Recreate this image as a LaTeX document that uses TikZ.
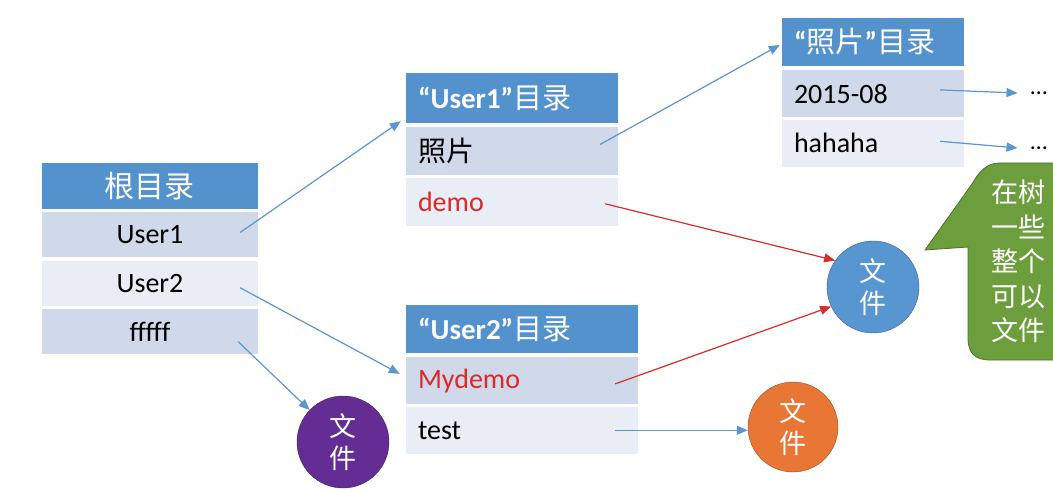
\documentclass[tikz,border=0pt]{standalone}
\usepackage{fontspec}
\setmainfont{Carlito}
\newfontfamily\cjk{Noto Sans CJK SC}
\usetikzlibrary{arrows.meta,positioning}
\definecolor{headblue}{RGB}{84,146,206}
\definecolor{rowdark}{RGB}{207,217,234}
\definecolor{rowlite}{RGB}{233,237,245}
\definecolor{linkblue}{RGB}{91,150,210}
\definecolor{linkred}{RGB}{220,45,45}
\definecolor{demored}{RGB}{222,40,40}
\definecolor{filepurple}{RGB}{100,45,148}
\definecolor{fileblue}{RGB}{88,150,210}
\definecolor{fileorange}{RGB}{232,118,52}
\definecolor{notegreen}{RGB}{108,158,62}
\tikzset{
  tblhead/.style={
    fill=headblue,
    text=white,
    inner xsep=12pt,
    inner ysep=0pt,
    minimum height=48pt,
    font=\fontsize{29}{32}\selectfont
  },
  tblrow/.style={
    inner xsep=12pt,
    inner ysep=0pt,
    minimum height=47pt,
    font=\fontsize{28}{32}\selectfont
  },
  filenode/.style={
    circle,
    draw=#1!65!black,
    fill=#1,
    minimum size=92pt,
    inner sep=0pt,
    text=white,
    align=center,
    font=\cjk\fontsize{27}{32}\selectfont
  },
  bluelink/.style={-{Triangle[length=11pt,width=9pt]}, draw=linkblue, fill=linkblue, line width=1.2pt},
  redlink/.style={-{Triangle[length=11pt,width=9pt]}, draw=linkred, fill=linkred, line width=1.2pt}
}

\begin{document}
\begin{tikzpicture}[x=1pt, y=-1pt, node distance=3pt]
  \clip (0,0) rectangle (1053,492);

  % root directory
  \node[tblhead, text width=192pt, align=center, minimum height=46pt, font=\fontsize{30}{32}\selectfont] (rooth) at (150,186) {\cjk 根目录};
  \node[tblrow, fill=rowdark, text width=192pt, align=center, minimum height=45pt, below=of rooth] (ru1) {User1};
  \node[tblrow, fill=rowlite, text width=192pt, align=center, minimum height=45pt, below=of ru1] (ru2) {User2};
  \node[tblrow, fill=rowdark, text width=192pt, align=center, minimum height=45pt, below=of ru2] (rf) {fffff};

  % User1 directory
  \node[tblhead, text width=188pt, align=left, minimum height=50pt] (u1h) at (512,98) {{\bfseries “User1”}{\cjk 目录}};
  \node[tblrow, fill=rowdark, text width=188pt, align=left, minimum height=48pt, below=4pt of u1h] (u1pic) {\cjk 照片};
  \node[tblrow, fill=rowlite, text width=188pt, align=left, minimum height=48pt, below=2pt of u1pic, text=demored] (u1demo) {demo};

  % User2 directory
  \node[tblhead, text width=208pt, align=left] (u2h) at (522,329) {{\bfseries “User2”}{\cjk 目录}};
  \node[tblrow, fill=rowdark, text width=208pt, align=left, below=4pt of u2h, text=demored] (u2my) {Mydemo};
  \node[tblrow, fill=rowlite, text width=208pt, align=left, below=2pt of u2my] (u2test) {test};

  % photo directory
  \node[tblhead, text width=158pt, align=left] (pich) at (873,42) {{\bfseries “}{\cjk 照片}{\bfseries ”}{\cjk 目录}};
  \node[tblrow, fill=rowdark, text width=158pt, align=left, below=4pt of pich] (pic1) {2015-08};
  \node[tblrow, fill=rowlite, text width=158pt, align=left, below=2pt of pic1] (pic2) {hahaha};

  \node[font=\fontsize{24}{28}\selectfont, inner sep=1pt] (more1) at (1039,93) {…};
  \node[font=\fontsize{24}{28}\selectfont, inner sep=1pt] (more2) at (1039,148) {…};

  % files
  \node[filenode=filepurple] (file1) at (343,442) {文\\件};
  \node[filenode=fileblue] (file2) at (873,287) {文\\件};
  \node[filenode=fileorange, minimum size=90pt] (file3) at (793,427) {文\\件};

  % callout
  \filldraw[fill=notegreen, draw=notegreen!70!black, line width=0.8pt]
    (925,250) -- (972,184) .. controls (979,172) and (986,163) .. (1000,163)
    -- (1080,163) -- (1080,360) -- (990,360)
    .. controls (975,360) and (968,353) .. (968,338) -- (968,247) -- cycle;
  \node[anchor=north west, inner sep=0pt, text=white, align=left,
        font=\cjk\fontsize{27}{34.5}\selectfont] (note) at (991,180) {在树\\一些\\整个\\可以\\文件};

  \draw[bluelink] ([xshift=-18pt,yshift=2.5pt]ru1.east) -- ([xshift=-5pt,yshift=2pt]u1h.south west);
  \draw[bluelink] ([xshift=-18pt,yshift=-4.5pt]ru2.east) -- ([xshift=-6pt,yshift=7pt]u2my.west);
  \draw[bluelink] ([xshift=-20pt,yshift=-10pt]rf.east) -- (file1);
  \draw[bluelink] ([xshift=-18pt,yshift=7pt]u1pic.east) -- ([xshift=-2pt,yshift=-3pt]pich.west);
  \draw[redlink] ([xshift=-13pt,yshift=-2pt]u1demo.east) -- (file2.145);
  \draw[redlink] ([xshift=-23pt,yshift=-3pt]u2my.east) -- (file2.205);
  \draw[bluelink] ([xshift=-23pt]u2test.east) -- (u2test.east -| file3.west);
  \draw[bluelink] ([xshift=-24pt,yshift=4pt]pic1.east) -- ([xshift=-12pt]more1.west);
  \draw[bluelink] ([xshift=-24pt,yshift=2pt]pic2.east) -- ([xshift=-12pt]more2.west);
\end{tikzpicture}
\end{document}
